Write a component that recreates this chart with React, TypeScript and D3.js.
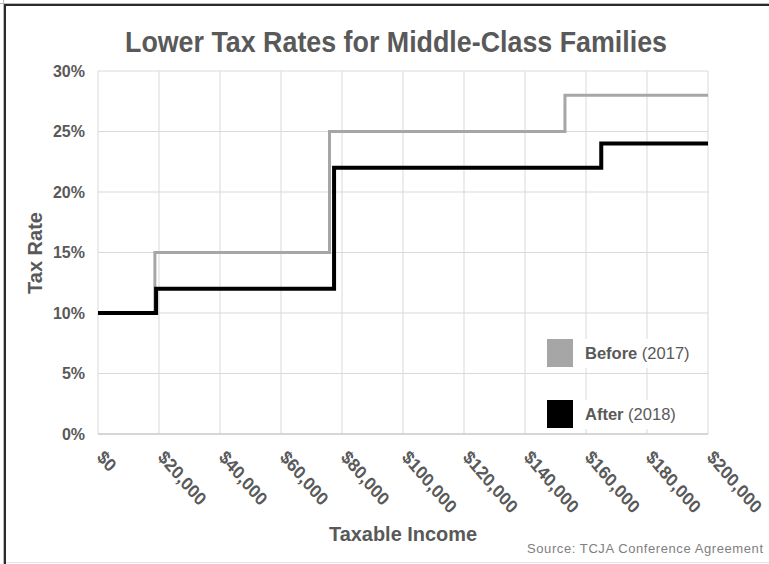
import React from "react";
import * as d3 from "d3";

const xTicks = [0, 20000, 40000, 60000, 80000, 100000, 120000, 140000, 160000, 180000, 200000];
const yTicks = [0, 0.05, 0.1, 0.15, 0.2, 0.25, 0.3];
// [bracket start income, rate]
const beforeIncome = [0, 18650, 75900, 153100, 200000];
const beforeRate = [0.10, 0.15, 0.25, 0.28, 0.28];
const afterIncome = [0, 19050, 77400, 165000, 200000];
const afterRate = [0.10, 0.12, 0.22, 0.24, 0.24];
const seriesNames = ["Before", "After"];
const seriesYears = ["(2017)", "(2018)"];

const W = 769;
const H = 564;
const TXT = "#595959";
const FONT = "Liberation Sans, Arial, sans-serif";

export default function App() {
  const x = d3.scaleLinear().domain([0, 200000]).range([98, 708]);
  const y = d3.scaleLinear().domain([0, 0.3]).range([434, 71]);
  const line = d3
    .line<[number, number]>()
    .x((d) => x(d[0]))
    .y((d) => y(d[1]))
    .curve(d3.curveStepAfter);
  const before = beforeIncome.map((v, i) => [v, beforeRate[i]] as [number, number]);
  const after = afterIncome.map((v, i) => [v, afterRate[i]] as [number, number]);
  const fmt = (v: number) => "$" + d3.format(",")(v);

  return (
    <svg
      width={W}
      height={H}
      style={{ position: "absolute", left: 0, top: 0, background: "#fff" }}
      fontFamily={FONT}
    >
      {/* frame */}
      <line x1={5} y1={5} x2={769} y2={5} stroke="#2b2b2b" strokeWidth={2} />
      <line x1={5} y1={4} x2={5} y2={564} stroke="#2b2b2b" strokeWidth={2} />
      <line x1={0} y1={3.5} x2={769} y2={3.5} stroke="#bbb" strokeWidth={1} />
      <line x1={3.5} y1={0} x2={3.5} y2={564} stroke="#bbb" strokeWidth={1} />
      <line x1={6} y1={562.5} x2={769} y2={562.5} stroke="#e3e3e3" strokeWidth={1} />

      {/* title */}
      <text x={396} y={51.5} textAnchor="middle" fontSize={29} fontWeight="bold" fill={TXT} textLength={542} lengthAdjust="spacingAndGlyphs">
        Lower Tax Rates for Middle-Class Families
      </text>

      {/* grid */}
      {xTicks.map((t) => (
        <line key={"gx" + t} x1={x(t)} x2={x(t)} y1={y(0.3)} y2={y(0)} stroke="#d9d9d9" strokeWidth={1} />
      ))}
      {yTicks.map((t) => (
        <line key={"gy" + t} x1={x(0)} x2={x(200000)} y1={y(t)} y2={y(t)} stroke={t === 0 ? "#c8c8c8" : "#d9d9d9"} strokeWidth={t === 0 ? 1.5 : 1} />
      ))}

      {/* y tick labels */}
      {yTicks.map((t) => (
        <text key={"yl" + t} x={85} y={y(t) + 5.5} textAnchor="end" fontSize={16} fontWeight="bold" fill={TXT}>
          {Math.round(t * 100) + "%"}
        </text>
      ))}

      {/* x tick labels */}
      {xTicks.map((t) => (
        <text
          key={"xl" + t}
          transform={`translate(${x(t) - 2},${458}) scale(0.92,1) rotate(47)`}
          fontSize={18.5}
          fontWeight="bold"
          fill={TXT}
        >
          {fmt(t)}
        </text>
      ))}

      {/* axis titles */}
      <text transform={`translate(42,253) rotate(-90)`} textAnchor="middle" fontSize={20} fontWeight="bold" fill={TXT}>
        Tax Rate
      </text>
      <text x={403} y={541} textAnchor="middle" fontSize={20} fontWeight="bold" fill={TXT} textLength={148} lengthAdjust="spacingAndGlyphs">
        Taxable Income
      </text>
      <text x={763} y={553} textAnchor="end" fontSize={13} fill="#808080" textLength={236} lengthAdjust="spacing">
        Source: TCJA Conference Agreement
      </text>

      {/* legend backgrounds */}
      <rect x={540} y={339} width={160} height={29} fill="#fff" />
      <rect x={540} y={400} width={160} height={29} fill="#fff" />

      {/* lines */}
      <path d={line(before) || ""} fill="none" stroke="#a6a6a6" strokeWidth={3} />
      <path d={line(after) || ""} fill="none" stroke="#000" strokeWidth={4} />

      {/* legend */}
      {seriesNames.map((name, i) => {
        const top = i === 0 ? 339 : 400;
        return (
          <g key={name}>
            <rect x={547} y={top} width={26} height={28} fill={i === 0 ? "#a6a6a6" : "#000"} />
            <text x={585} y={top + 20} fontSize={16.5} fill={TXT}>
              <tspan fontWeight="bold">{name}</tspan>
              <tspan> {seriesYears[i]}</tspan>
            </text>
          </g>
        );
      })}
    </svg>
  );
}
